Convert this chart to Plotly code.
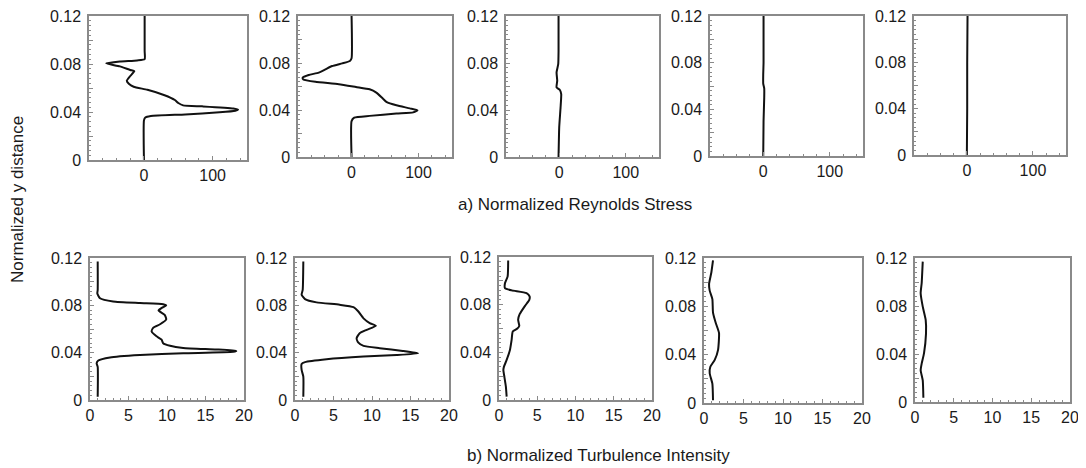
import plotly.graph_objects as go

# ---------------- data ----------------
# a) Normalized Reynolds Stress (x = stress, y = normalized y distance)
rs1_x = [0, 0, 2, 10, 60, 110, 133, 137, 130, 85, 57, 50, 45, 30, 5, -15, -22, -25, -20, -14, -20, -35, -55, -35, -10, 1, 1, 1]
rs1_y = [0, 0.033, 0.0355, 0.0367, 0.038, 0.0397, 0.041, 0.042, 0.043, 0.0447, 0.0455, 0.0475, 0.050, 0.054, 0.0585,
         0.061, 0.0635, 0.066, 0.070, 0.074, 0.075, 0.078, 0.0805, 0.082, 0.083, 0.084, 0.091, 0.12]

rs2_x = [0, 0, 4, 27, 67, 92, 98.5, 87, 67, 52, 47, 37, 27, 6.5, -19, -54, -72, -73, -64, -49, -39, -29, -14, -2.5, 0, 0]
rs2_y = [0, 0.0306, 0.0335, 0.035, 0.037, 0.038, 0.0397, 0.0414, 0.044, 0.047, 0.0496, 0.0548, 0.0576, 0.0596, 0.062,
         0.064, 0.066, 0.0675, 0.0698, 0.0718, 0.0746, 0.0774, 0.0797, 0.0817, 0.084, 0.12]

rs3_x = [-1, 0, 2, 3, 1, -4, -3, -4, -1.5, -1, -1]
rs3_y = [0, 0.0254, 0.042, 0.0536, 0.057, 0.0593, 0.065, 0.072, 0.079, 0.09, 0.12]

rs4_x = [0, 0.5, 1.5, 1.5, 0, 0, 0.5, 0.5]
rs4_y = [0, 0.03, 0.05, 0.058, 0.062, 0.07, 0.08, 0.12]

rs5_x = [0, 0.5, 0.5, 1]
rs5_y = [0, 0.04, 0.08, 0.12]

# b) Normalized Turbulence Intensity
ti1_x = [1.0, 1.0, 0.86, 1.08, 2.6, 6.5, 12.1, 18.6, 19.0, 16.4, 12.1, 10.4, 9.5, 9.3, 8.6, 8.0, 8.2, 9.1, 9.9, 9.7,
         8.9, 9.5, 9.9, 9.5, 6.5, 3.0, 1.3, 0.95, 1.0, 1.0]
ti1_y = [0.0028, 0.028, 0.031, 0.0334, 0.036, 0.038, 0.0395, 0.0407, 0.0415, 0.0427, 0.044, 0.0458, 0.048, 0.051,
         0.054, 0.058, 0.061, 0.064, 0.068, 0.072, 0.0757, 0.0785, 0.080, 0.081, 0.082, 0.0833, 0.086, 0.090, 0.093, 0.117]

ti2_x = [1.08, 1.08, 0.86, 0.86, 1.3, 4.1, 8.9, 13.2, 16.0, 14.0, 11.0, 8.9, 8.2, 8.0, 8.4, 9.3, 10.5, 9.7, 8.9, 8.2,
         7.6, 5.8, 2.8, 1.3, 0.86, 1.0, 1.08]
ti2_y = [0.0028, 0.0198, 0.0254, 0.0305, 0.032, 0.0344, 0.0367, 0.038, 0.0395, 0.0415, 0.0438, 0.0457, 0.0486, 0.0522,
         0.0565, 0.0593, 0.0627, 0.065, 0.069, 0.075, 0.0785, 0.0805, 0.0825, 0.0853, 0.089, 0.093, 0.117]

ti3_x = [1.0, 0.9, 0.7, 0.57, 0.65, 1.0, 1.43, 1.65, 1.8, 2.4, 2.65, 2.5, 2.7, 3.4, 3.96, 4.0, 3.6, 1.65, 0.78, 0.78,
         1.13, 1.2]
ti3_y = [0.0028, 0.0112, 0.0196, 0.0252, 0.028, 0.0336, 0.042, 0.0505, 0.0575, 0.060, 0.0622, 0.0673, 0.072, 0.079,
         0.084, 0.0869, 0.0897, 0.092, 0.0939, 0.098, 0.1037, 0.117]

ti4_x = [1.14, 1.06, 0.72, 0.8, 1.36, 1.78, 1.9, 1.48, 1.14, 1.06, 0.72, 0.64, 0.93, 1.14]
ti4_y = [0.0022, 0.016, 0.0246, 0.030, 0.0357, 0.044, 0.058, 0.0664, 0.0748, 0.086, 0.093, 0.0985, 0.108, 0.118]

ti5_x = [1.08, 1.0, 0.73, 0.86, 1.16, 1.42, 1.38, 1.0, 0.73, 0.86, 1.0]
ti5_y = [0.0036, 0.018, 0.0265, 0.032, 0.0405, 0.057, 0.0684, 0.0795, 0.0907, 0.099, 0.117]

# tick labels
y_tickvals = [0, 0.02, 0.04, 0.06, 0.08, 0.10, 0.12]
y_ticktext = ["0", "", "0.04", "", "0.08", "", "0.12"]
rs_tickvals = [0, 100]
rs_ticktext = ["0", "100"]
ti_tickvals = [0, 5, 10, 15, 20]
ti_ticktext = ["0", "5", "10", "15", "20"]

title_a = "a) Normalized Reynolds Stress"
title_b = "b) Normalized Turbulence Intensity"
y_title = "Normalized y distance"

# ---------------- figure ----------------
# the page body has an 8 px margin, so the figure is drawn 8 px in from the window corner
OFF = 8
W, H = 1086 - OFF, 468 - OFF
FONT = "Liberation Sans, Arial, sans-serif"
AX = "#8a8a8a"
TXT = "#1a1a1a"


def px(x):
    return (x - OFF) / W


def py(y):
    return 1 - (y - OFF) / H


top_boxes = [(89, 247, 16, 160), (298, 452, 16, 157), (506, 659, 16, 157), (710, 863, 16, 156), (914, 1066, 16, 155)]
bot_boxes = [(90, 244, 258, 400), (295, 449, 258, 400), (499, 652, 257, 400), (704, 862, 258, 403), (915, 1070, 258, 402)]

series = [(rs1_x, rs1_y), (rs2_x, rs2_y), (rs3_x, rs3_y), (rs4_x, rs4_y), (rs5_x, rs5_y),
          (ti1_x, ti1_y), (ti2_x, ti2_y), (ti3_x, ti3_y), (ti4_x, ti4_y), (ti5_x, ti5_y)]
boxes = top_boxes + bot_boxes

fig = go.Figure()
layout = {}

y_minor = [round(i * 0.004, 4) for i in range(31) if i % 5 != 0]
rs_minor = [v for v in range(-80, 151, 20) if v not in (0, 100)]
ti_minor = [v for v in range(0, 21) if v % 5 != 0]

for i, ((xs, ys), (x0, x1, y0, y1)) in enumerate(zip(series, boxes), start=1):
    sfx = "" if i == 1 else str(i)
    fig.add_trace(go.Scatter(x=xs, y=ys, mode="lines", xaxis="x" + sfx, yaxis="y" + sfx,
                             line=dict(color="#111111", width=2, shape="spline", smoothing=0.5),
                             showlegend=False, hoverinfo="skip"))
    top = i <= 5
    xaxis = dict(
        domain=[px(x0), px(x1)], anchor="y" + sfx, automargin=False,
        range=[-80, 150] if top else [0, 20],
        tickmode="array",
        tickvals=rs_tickvals if top else ti_tickvals,
        ticktext=rs_ticktext if top else ti_ticktext,
        ticks="inside", ticklen=4, tickcolor=AX, tickwidth=1,
        minor=dict(tickmode="array", tickvals=rs_minor if top else ti_minor,
                   ticks="inside", ticklen=2, tickcolor=AX, tickwidth=1, showgrid=False),
        showline=True, linecolor=AX, linewidth=1.5, mirror=True,
        showgrid=False, zeroline=False, fixedrange=True,
        ticklabeloverflow="allow",
        tickfont=dict(family=FONT, size=16, color=TXT),
    )
    yaxis = dict(
        domain=[py(y1), py(y0)], anchor="x" + sfx, automargin=False,
        range=[0, 0.12],
        tickmode="array", tickvals=y_tickvals, ticktext=y_ticktext,
        ticks="inside", ticklen=4, tickcolor=AX, tickwidth=1,
        minor=dict(tickmode="array", tickvals=y_minor,
                   ticks="inside", ticklen=2, tickcolor=AX, tickwidth=1, showgrid=False),
        showline=True, linecolor=AX, linewidth=1.5, mirror=True,
        showgrid=False, zeroline=False, fixedrange=True,
        ticklabelstandoff=3, ticklabeloverflow="allow",
        tickfont=dict(family=FONT, size=16, color=TXT),
    )
    layout["xaxis" + sfx] = xaxis
    layout["yaxis" + sfx] = yaxis

fig.update_layout(**layout)
fig.update_layout(
    width=W, height=H,
    margin=dict(l=0, r=0, t=0, b=0, autoexpand=False),
    paper_bgcolor="white", plot_bgcolor="white",
    font=dict(family=FONT, size=16, color=TXT),
    showlegend=False,
    annotations=[
        dict(text=title_a, x=px(575), y=py(204), xref="paper", yref="paper",
             showarrow=False, xanchor="center", yanchor="middle", font=dict(size=17)),
        dict(text=title_b, x=px(598), y=py(455), xref="paper", yref="paper",
             showarrow=False, xanchor="center", yanchor="middle", font=dict(size=17)),
        dict(text=y_title, x=px(17), y=py(200), xref="paper", yref="paper", textangle=-90,
             showarrow=False, xanchor="center", yanchor="middle", font=dict(size=17)),
    ],
)

fig.write_html("out.html")
